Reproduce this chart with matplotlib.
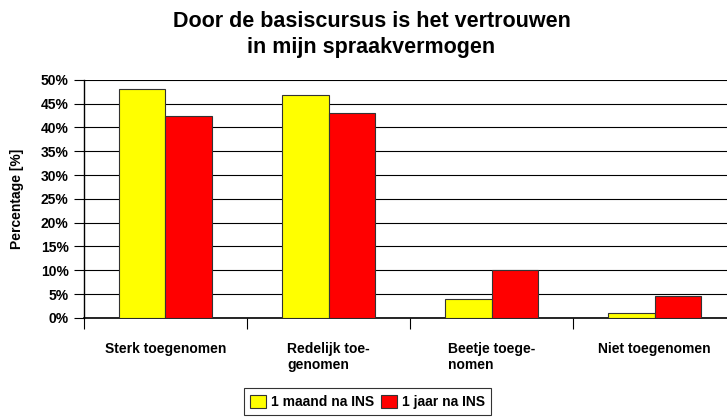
import matplotlib.pyplot as plt
import numpy as np

plt.rcParams['font.family'] = ['Liberation Sans', 'DejaVu Sans']
plt.rcParams['font.weight'] = 'bold'

categories = ["Sterk toegenomen", "Redelijk toe-\ngenomen", "Beetje toege-\nnomen", "Niet toegenomen"]
maand = [48.0, 46.8, 4.0, 1.1]   # 1 maand na INS
jaar = [42.5, 43.0, 10.1, 4.6]   # 1 jaar na INS
yticks = np.arange(0, 51, 5)

fig = plt.figure(figsize=(7.27, 4.2), dpi=100)
ax = fig.add_axes([0.1155, 0.243, 0.897, 0.567])

x = np.arange(len(categories))
w = 0.285
ax.bar(x - w / 2, maand, w, color='#ffff00', edgecolor='#333333', linewidth=0.8,
       label='1 maand na INS', zorder=3)
ax.bar(x + w / 2, jaar, w, color='#ff0000', edgecolor='#333333', linewidth=0.8,
       label='1 jaar na INS', zorder=3)

ax.set_xlim(-0.5, len(categories) - 0.5)
ax.set_ylim(0, 50)
ax.set_yticks(yticks)
ax.set_yticklabels([f"{v}%" for v in yticks], fontsize=10, fontweight='bold')
ax.yaxis.grid(True, color='black', linewidth=0.8, zorder=0)

ax.set_xticks(x)
ax.set_xticklabels(categories, fontsize=10, fontweight='bold', multialignment='left', va='top')
ax.tick_params(axis='x', which='major', length=0, pad=17)
ax.set_xticks(np.arange(len(categories) + 1) - 0.5, minor=True)
ax.tick_params(axis='x', which='minor', length=8, width=0.8, direction='out')
ax.tick_params(axis='y', length=7, width=0.8, pad=4)

for side in ['top', 'right']:
    ax.spines[side].set_visible(False)
ax.spines['left'].set_linewidth(1.0)
ax.spines['bottom'].set_linewidth(1.2)

ax.set_ylabel('Percentage [%]', fontsize=10, fontweight='bold', labelpad=12)

fig.text(0.511, 0.918, "Door de basiscursus is het vertrouwen\nin mijn spraakvermogen",
         ha='center', va='center', fontsize=15.5, fontweight='bold', linespacing=1.3)

leg = fig.legend(loc='center', bbox_to_anchor=(0.506, 0.043), ncol=2, fontsize=10,
                 frameon=True, fancybox=False, edgecolor='black', handlelength=1.1,
                 handleheight=1.1, handletextpad=0.4, columnspacing=0.5,
                 borderpad=0.45, borderaxespad=0)
leg.get_frame().set_linewidth(0.8)

fig.savefig('out.png', dpi=100)
